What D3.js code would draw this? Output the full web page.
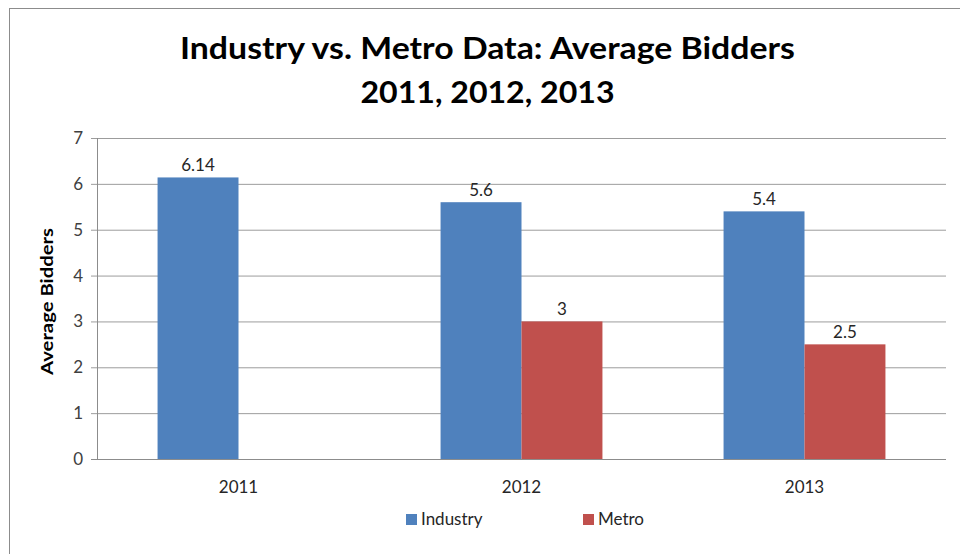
<!DOCTYPE html>
<html>
<head>
<meta charset="utf-8">
<script src="https://cdn.jsdelivr.net/npm/d3@7"></script>
<style>
  html, body { margin: 0; padding: 0; background: #ffffff; }
  svg { display: block; }
  text { font-family: Lato, "Open Sans", sans-serif; }
</style>
</head>
<body>
<svg id="chart" width="960" height="554"></svg>
<script>
// Chart data
const years = ["2011", "2012", "2013"];
const seriesNames = ["Industry", "Metro"];
const industryValues = [6.14, 5.6, 5.4];
const metroValues = [null, 3, 2.5];
const valueLabels = { Industry: ["6.14", "5.6", "5.4"], Metro: [null, "3", "2.5"] };
const yTicks = [0, 1, 2, 3, 4, 5, 6, 7];
const seriesColors = ["#4F81BD", "#C0504D"];
const titleLines = ["Industry vs. Metro Data: Average Bidders", "2011, 2012, 2013"];
const yAxisTitle = "Average Bidders";

const svg = d3.select("#chart");
const W = 960, H = 554;

// Outer chart frame
svg.append("rect")
  .attr("x", 9.5).attr("y", 8.5)
  .attr("width", W + 20).attr("height", H + 20)
  .attr("fill", "#ffffff")
  .attr("stroke", "#8c8c8c").attr("stroke-width", 1);

const plot = { left: 97, right: 946, top: 138, bottom: 459 };

const x = d3.scaleBand().domain(years).range([plot.left, plot.right]).padding(0);
const xSub = d3.scaleBand().domain(seriesNames)
  .range([x.bandwidth() * 0.214, x.bandwidth() * 0.786]).padding(0);
const y = d3.scaleLinear().domain([0, 7]).range([plot.bottom, plot.top]);

// Gridlines + y axis
const yAxis = d3.axisLeft(y).tickValues(yTicks).tickFormat(d3.format("d"))
  .tickSize(-(plot.right - plot.left)).tickPadding(14);
const gy = svg.append("g").attr("transform", `translate(${plot.left},0)`).call(yAxis);
gy.select(".domain").remove();
gy.selectAll(".tick line")
  .attr("x1", -6)
  .attr("stroke", "#9c9c9c").attr("stroke-width", 1);
gy.selectAll(".tick text")
  .attr("fill", "#404040").attr("font-size", 17).attr("font-family", "Lato, sans-serif");

// Vertical axis line
svg.append("line")
  .attr("x1", plot.left + 0.5).attr("x2", plot.left + 0.5)
  .attr("y1", plot.top).attr("y2", plot.bottom)
  .attr("stroke", "#8c8c8c");

// Bars
const rows = years.map((yr, i) => ({ year: yr, i, values: [
  { key: "Industry", v: industryValues[i], label: valueLabels.Industry[i] },
  { key: "Metro", v: metroValues[i], label: valueLabels.Metro[i] }
]}));
const color = d3.scaleOrdinal().domain(seriesNames).range(seriesColors);

const groups = svg.append("g").selectAll("g").data(rows).join("g")
  .attr("transform", d => `translate(${x(d.year)},0)`);

groups.selectAll("rect").data(d => d.values.filter(s => s.v != null)).join("rect")
  .attr("x", s => xSub(s.key))
  .attr("width", xSub.bandwidth())
  .attr("y", s => y(s.v))
  .attr("height", s => y(0) - y(s.v))
  .attr("fill", s => color(s.key));

groups.selectAll("text").data(d => d.values.filter(s => s.v != null)).join("text")
  .attr("x", s => xSub(s.key) + xSub.bandwidth() / 2)
  .attr("y", s => y(s.v) - 6)
  .attr("text-anchor", "middle")
  .attr("font-size", 17)
  .attr("fill", "#262626")
  .text(s => s.label);

// Horizontal axis
const xAxis = d3.axisBottom(x).tickSize(0).tickPadding(22);
const gx = svg.append("g").attr("transform", `translate(0,${plot.bottom})`).call(xAxis);
gx.select(".domain").attr("stroke", "#8c8c8c").attr("d", `M${plot.left - 6},0.5H${plot.right}`);
gx.selectAll(".tick text").attr("fill", "#262626").attr("font-size", 17).attr("font-family", "Lato, sans-serif");

// Title (two lines, condensed to the title's set width)
const titleWidths = [615, 254];
svg.append("g").selectAll("text").data(titleLines).join("text")
  .attr("x", 487.5)
  .attr("y", (d, i) => 59 + i * 44)
  .attr("text-anchor", "middle")
  .attr("font-weight", "bold")
  .attr("font-size", 31)
  .attr("textLength", (d, i) => titleWidths[i])
  .attr("lengthAdjust", "spacingAndGlyphs")
  .attr("fill", "#000000")
  .text(d => d);

// Y axis title
svg.append("text")
  .attr("transform", `translate(53,${(plot.top + plot.bottom) / 2 + 3}) rotate(-90)`)
  .attr("text-anchor", "middle")
  .attr("font-weight", "bold")
  .attr("font-size", 17)
  .attr("textLength", 147)
  .attr("lengthAdjust", "spacingAndGlyphs")
  .attr("fill", "#000000")
  .text(yAxisTitle);

// Legend
const legendX = [406, 583];
const legend = svg.append("g").selectAll("g").data(seriesNames).join("g")
  .attr("transform", (d, i) => `translate(${legendX[i]},514)`);
legend.append("rect").attr("width", 11).attr("height", 11).attr("fill", d => color(d));
legend.append("text").attr("x", 15).attr("y", 11).attr("font-size", 17)
  .attr("fill", "#262626").text(d => d);
</script>
</body>
</html>
